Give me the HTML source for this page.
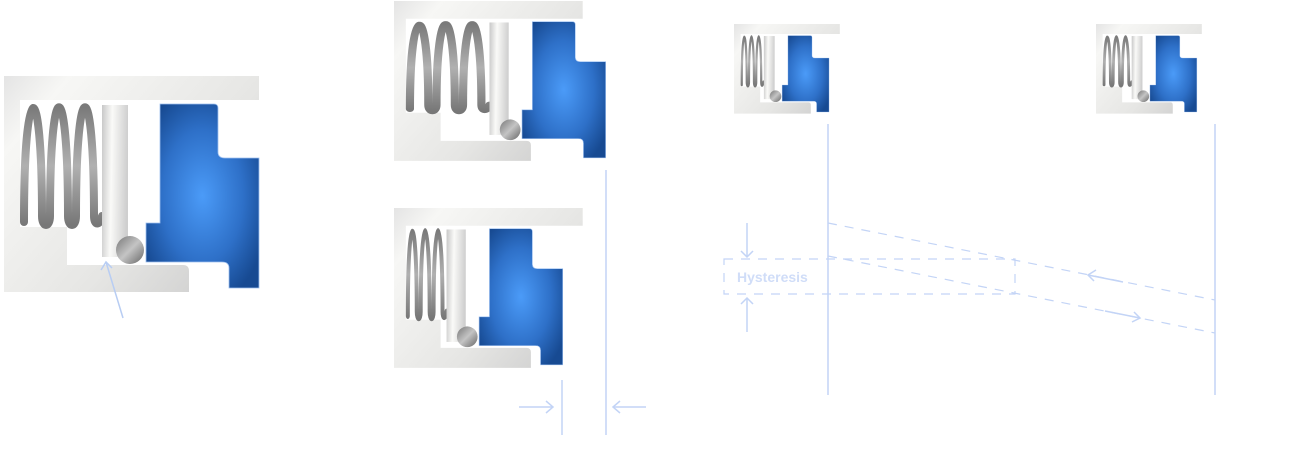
<!DOCTYPE html>
<html><head><meta charset="utf-8"><style>
html,body{margin:0;padding:0;background:#fff;}
svg{display:block}
</style></head><body>
<svg width="1307" height="476" viewBox="0 0 1307 476" xmlns="http://www.w3.org/2000/svg">
<defs>
<linearGradient id="hg" gradientUnits="userSpaceOnUse" x1="0" y1="0" x2="255" y2="216">
<stop offset="0" stop-color="#e4e4e4"/><stop offset="0.15" stop-color="#f7f7f5"/><stop offset="0.6" stop-color="#e6e6e4"/><stop offset="1" stop-color="#c8c8c8"/></linearGradient>
<linearGradient id="pg" x1="0" y1="0" x2="1" y2="0.1">
<stop offset="0" stop-color="#c8c8c8"/><stop offset="0.4" stop-color="#fafaf8"/><stop offset="1" stop-color="#cfcfcf"/></linearGradient>
<linearGradient id="sg" x1="0" y1="0" x2="0" y2="1">
<stop offset="0" stop-color="#7a7a7a"/><stop offset="0.5" stop-color="#b0b0b0"/><stop offset="1" stop-color="#777"/></linearGradient>
<radialGradient id="bg" cx="0.5" cy="0.5" r="0.6">
<stop offset="0" stop-color="#4b9bf8"/><stop offset="0.6" stop-color="#2e70c8"/><stop offset="1" stop-color="#174a92"/></radialGradient>
<linearGradient id="ballg" x1="0" y1="0" x2="1" y2="1">
<stop offset="0" stop-color="#777"/><stop offset="0.5" stop-color="#c4c4c4"/><stop offset="1" stop-color="#666"/></linearGradient>
<g id="housing">
<path d="M0,0 H255 V24 H16 V151 H63 V189 H179 Q185,189 185,195 V216 H0Z" fill="url(#hg)"/>
</g>
<path id="blue" d="M156,28 H210 Q214,28 214,32 V76 Q214,82 221,82 H255 V212 H225 V192 Q225,186 218,186 H142 V147 H156Z" fill="url(#bg)" stroke="#9ec0f0" stroke-width="0.8"/>
<path id="spring" d="M4,146 C4,-5 22,-5 22,140 C22,152 30,152 30,140 C30,-5 48,-5 48,140 C48,152 56,152 56,140 C56,-5 74,-5 74,140 C74,150 80,150 82,140" fill="none" stroke="url(#sg)" stroke-width="8" stroke-linecap="round"/>
</defs>

<g transform="translate(4,76)">
<use href="#housing"/>
<g transform="translate(16,0)"><use href="#spring"/></g>
<rect x="98" y="29" width="26" height="152" fill="url(#pg)"/>
<circle cx="126" cy="174" r="14" fill="url(#ballg)"/>
<use href="#blue"/>
</g>
<line x1="123" y1="318" x2="106" y2="262" stroke="#b8cdf3" stroke-width="1.5"/>
<path d="M101,270 L106,262 L112,268" fill="none" stroke="#b8cdf3" stroke-width="1.5"/>

<g transform="translate(394,1) scale(0.74)">
<use href="#housing"/>
<g transform="translate(16,0) scale(1.38,1)"><use href="#spring"/></g>
<rect x="129" y="29" width="26" height="152" fill="url(#pg)"/>
<circle cx="157" cy="174" r="14" fill="url(#ballg)"/>
<g transform="translate(31,0)"><use href="#blue"/></g>
</g>

<g transform="translate(394,208) scale(0.74)">
<use href="#housing"/>
<g transform="translate(16,0) scale(0.67,1)"><use href="#spring"/></g>
<rect x="71" y="29" width="26" height="152" fill="url(#pg)"/>
<circle cx="99" cy="174" r="14" fill="url(#ballg)"/>
<g transform="translate(-27,0)"><use href="#blue"/></g>
</g>

<g transform="translate(734,24) scale(0.415)">
<use href="#housing"/>
<g transform="translate(16,0) scale(0.67,1)"><use href="#spring"/></g>
<rect x="72" y="29" width="26" height="152" fill="url(#pg)"/>
<circle cx="100" cy="174" r="14" fill="url(#ballg)"/>
<g transform="translate(-26,0)"><use href="#blue"/></g>
</g>
<g transform="translate(1096,24) scale(0.415)">
<use href="#housing"/>
<g transform="translate(16,0) scale(0.85,1)"><use href="#spring"/></g>
<rect x="86" y="29" width="26" height="152" fill="url(#pg)"/>
<circle cx="114" cy="174" r="14" fill="url(#ballg)"/>
<g transform="translate(-12,0)"><use href="#blue"/></g>
</g>

<g stroke="#c3d4f6" stroke-width="1.5" fill="none">
<line x1="606" y1="170" x2="606" y2="435"/>
<line x1="562" y1="380" x2="562" y2="435"/>
<line x1="519" y1="407" x2="553" y2="407"/>
<path d="M546,401 L553,407 L546,413"/>
<line x1="646" y1="407" x2="613" y2="407"/>
<path d="M620,401 L613,407 L620,413"/>
<line x1="828" y1="124" x2="828" y2="395"/>
<line x1="1215" y1="124" x2="1215" y2="395"/>
<line x1="747" y1="223" x2="747" y2="257"/>
<path d="M741,251 L747,257 L753,251"/>
<line x1="747" y1="332" x2="747" y2="298"/>
<path d="M741,304 L747,298 L753,304"/>
<line x1="1088" y1="275" x2="1123" y2="282"/>
<path d="M1096,270 L1088,275 L1094,281"/>
<line x1="1105" y1="311" x2="1140" y2="318"/>
<path d="M1134,312 L1140,318 L1132,322"/>
</g>
<g stroke="#c3d4f6" stroke-width="1.2" fill="none" stroke-dasharray="9,8">
<line x1="828" y1="223" x2="1215" y2="300"/>
<line x1="828" y1="256" x2="1215" y2="333"/>
<rect x="724" y="259" width="291" height="35"/>
</g>
<text x="737" y="282" font-family="Liberation Sans, sans-serif" font-size="14" font-weight="bold" fill="#d0ddf8">Hysteresis</text>
</svg>
</body></html>
